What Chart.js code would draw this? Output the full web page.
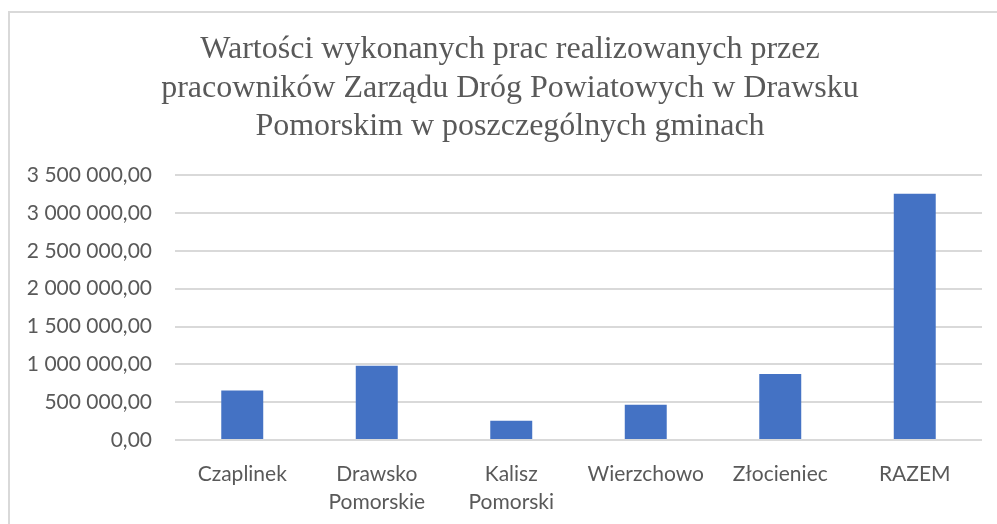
<!DOCTYPE html>
<html><head><meta charset="utf-8">
<script src="https://cdn.jsdelivr.net/npm/chart.js@4/dist/chart.umd.min.js"></script>
<style>
html,body{margin:0;padding:0;background:#fff;overflow:hidden;}
#frame{position:absolute;left:8px;top:11px;width:1100px;height:600px;border:2px solid #d9d9d9;box-sizing:border-box;}
#wrap{position:absolute;left:0;top:0;width:997px;height:524px;}
</style></head>
<body>
<div id="frame"></div>
<div id="wrap"><canvas id="c" width="997" height="524"></canvas></div>
<script>
const categories = [["Czaplinek"],["Drawsko","Pomorskie"],["Kalisz","Pomorski"],["Wierzchowo"],["Złocieniec"],["RAZEM"]];
const values = [655000, 982000, 255000, 467000, 872000, 3256000];
const titleLines = ["Wartości wykonanych prac realizowanych przez","pracowników Zarządu Dróg Powiatowych w Drawsku","Pomorskim w poszczególnych gminach"];
const yMax = 3500000, yStep = 500000;

function fmt(v){
  const s = Math.round(v).toString().replace(/\B(?=(\d{3})+(?!\d))/g, " ");
  return s + ",00";
}
const txt = '#595959';
new Chart(document.getElementById('c'), {
  type: 'bar',
  data: { labels: categories, datasets: [{ data: values, backgroundColor: '#4472C4', borderWidth: 0,
    categoryPercentage: 1, barPercentage: 0.312 }] },
  options: {
    responsive: false, animation: false,
    layout: { padding: { left: 24, right: 1, top: 0, bottom: 0 } },
    plugins: {
      legend: { display: false }, tooltip: { enabled: false },
      title: { display: true, text: titleLines, color: txt,
        font: { family: "'Liberation Serif','Times New Roman',serif", size: 32, weight: 'normal', lineHeight: 1.19 },
        padding: { top: 31, bottom: 30 } }
    },
    scales: {
      x: { grid: { display: false }, border: { display: false },
        ticks: { color: txt, font: { family: 'Lato', size: 21, lineHeight: 1.33 }, padding: 12, maxRotation: 0, autoSkip: false },
        afterFit(s){ s.height = 84; } },
      y: { min: 0, max: yMax, grid: { color: '#d9d9d9', lineWidth: 2, drawTicks: false }, border: { display: false },
        ticks: { stepSize: yStep, color: txt, font: { family: 'Lato', size: 21 }, padding: 23, callback: v => fmt(v) },
        afterFit(s){ s.width = 151; } },
      spacer: { position: 'right', display: true, grid: { display: false, drawTicks: false }, border: { display: false },
        ticks: { display: false }, afterFit(s){ s.width = 14; } }
    }
  }
});
</script>
</body></html>
